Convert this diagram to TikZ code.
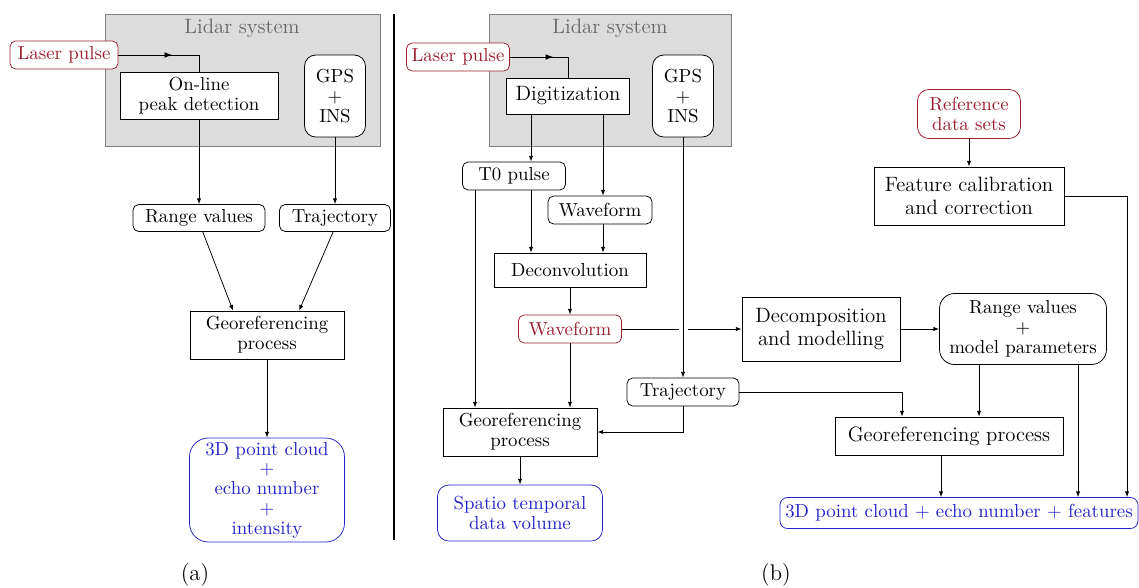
\documentclass[tikz,border=0pt]{standalone}
\usepackage{tikz}
\usepackage{amsmath}
\usetikzlibrary{arrows.meta,decorations.markings}
\definecolor{pulsered}{RGB}{155,30,45}
\definecolor{cloudblue}{RGB}{35,35,200}
\definecolor{sysgray}{RGB}{220,220,220}

\begin{document}
\begin{tikzpicture}[x=0.53pt,y=-0.53pt,
  sz/.style 2 args={minimum width=#1*0.53pt,minimum height=#2*0.53pt},
  box/.style={draw,fill=white,align=center,inner sep=0pt,font=\fontsize{10}{10.5}\selectfont},
  big/.style={font=\fontsize{11}{12.5}\selectfont},
  rbox/.style={box,rounded corners=3pt},
  redbox/.style={rbox,draw=pulsered,text=pulsered},
  bluebox/.style={box,rounded corners=8pt,draw=cloudblue,text=cloudblue},
  arr/.style={-{Latex[length=3pt,width=2.2pt]}},
  midarrow/.style={postaction={decorate},decoration={markings,
    mark=at position 0.55 with {\arrow{Latex[length=4pt,width=3pt]}}}}]
\useasboundingbox (0,0) rectangle (1139,587);

% (a)
\filldraw[fill=sysgray,draw=black!50] (105,14) rectangle (380,146);
\node[text=black!60,big] (sysA) at (242,28) {Lidar system};
\node[redbox,sz={108}{28}] (lsA) at (64,55) {Laser pulse};
\node[box,sz={158}{47}] (onl) at (199,96) {On-line\\peak detection};
\node[rbox,rounded corners=6pt,sz={61}{82}] (gpsA) at (335,96) {GPS\\$+$\\INS};
\node[rbox,sz={132}{27}] (rvA) at (199,218) {Range values};
\node[rbox,sz={111}{27}] (trA) at (335,218) {Trajectory};
\node[box,sz={154}{48}] (geoA) at (267,335) {Georeferencing\\process};
\node[bluebox,rounded corners=10pt,sz={155}{104}] (pcA) at (267,490)
  {3D point cloud\\$+$\\echo number\\$+$\\intensity};
\node[font=\large] (lblA) at (195,575) {(a)};

\draw[midarrow] (lsA.east) -| (onl.north);
\draw[arr] (onl.south) -- (rvA.north);
\draw[arr] (gpsA.south) -- (trA.north);
\draw[arr] ([xshift=2pt]rvA.south) -- ([xshift=-18pt]geoA.north);
\draw[arr] ([xshift=-1pt]trA.south) -- ([xshift=17pt]geoA.north);
\draw[arr] (geoA.south) -- (pcA.north);

\draw[line width=1.3pt] (394,14) -- (394,540);

% (b)
\filldraw[fill=sysgray,draw=black!50] (489,14) rectangle (731,146);
\node[text=black!60,big] (sysB) at (610,28) {Lidar system};
\node[redbox,sz={103}{28}] (lsB) at (458,57) {Laser pulse};
\node[box,big,sz={123}{36}] (dig) at (568,96) {Digitization};
\node[rbox,rounded corners=6pt,sz={61}{82}] (gpsB) at (683,96) {GPS\\$+$\\INS};
\node[rbox,sz={103}{28}] (t0) at (514,176) {T0 pulse};
\node[rbox,sz={104}{28}] (wfB) at (600,210) {Waveform};
\node[box,sz={152}{34}] (dec) at (570,270) {Deconvolution};
\node[redbox,sz={103}{28}] (wfR) at (570,329) {Waveform};
\node[rbox,sz={112}{28}] (trB) at (683,392) {Trajectory};
\node[box,sz={154}{48}] (geoB) at (520,432) {Georeferencing\\process};
\node[bluebox,rounded corners=6pt,sz={165}{56}] (stv) at (520,513) {Spatio temporal\\data volume};
\node[box,big,sz={158}{64}] (dcm) at (821,329) {Decomposition\\and modelling};
\node[rbox,rounded corners=8pt,sz={167}{71}] (rmp) at (1023,329) {Range values\\$+$\\model parameters};
\node[redbox,rounded corners=6pt,sz={103}{49}] (ref) at (969,114) {Reference\\data sets};
\node[box,big,sz={190}{58}] (fcc) at (969,196) {Feature calibration\\and correction};
\node[box,big,sz={228}{38}] (geoC) at (949,436) {Georeferencing process};
\node[bluebox,rounded corners=4pt,sz={358}{31}] (pcB) at (959,513)
  {3D point cloud $+$ echo number $+$ features};
\node[font=\large] (lblB) at (776,575) {(b)};

\coordinate (tLeft) at (475,0);
\coordinate (tRight) at (531,0);
\coordinate (wCol) at (603,0);
\coordinate (tjCol) at (902,0);
\coordinate (gcCol) at (941,0);
\coordinate (rmA) at (979,0);
\coordinate (rmB) at (1078,0);
\coordinate (fcCol) at (1127,0);
\coordinate (gapL) at (679,329);
\coordinate (gapR) at (688,329);

\draw[midarrow] (lsB.east) -| (dig.north);
\draw[arr] (dig.south -| tRight) -- (t0.north -| tRight);
\draw[arr] (dig.south -| wCol) -- (wfB.north -| wCol);
\draw[arr] (t0.south -| tRight) -- (dec.north -| tRight);
\draw[arr] (wfB.south -| wCol) -- (dec.north -| wCol);
\draw[arr] (t0.south -| tLeft) -- (geoB.north -| tLeft);
\draw[arr] (dec.south) -- (wfR.north);
\draw[arr] (wfR.south) -- (wfR.south |- geoB.north);
\draw[arr] (gpsB.south) -- (trB.north);
\draw[arr] (trB.south) |- (geoB.east);
\draw[arr] (geoB.south) -- (stv.north);
\draw (wfR.east) -- (gapL);
\draw[arr] (gapR) -- (dcm.west);
\draw[arr] (dcm.east) -- (rmp.west);
\draw[arr] (trB.east) -| (geoC.north -| tjCol);
\draw[arr] (ref.south) -- (fcc.north);
\draw[arr] (rmp.south -| rmA) -- (geoC.north -| rmA);
\draw[arr] (rmp.south -| rmB) -- (pcB.north -| rmB);
\draw[arr] (geoC.south -| gcCol) -- (pcB.north -| gcCol);
\draw[arr] (fcc.east) -| (pcB.north -| fcCol);
\end{tikzpicture}
\end{document}
